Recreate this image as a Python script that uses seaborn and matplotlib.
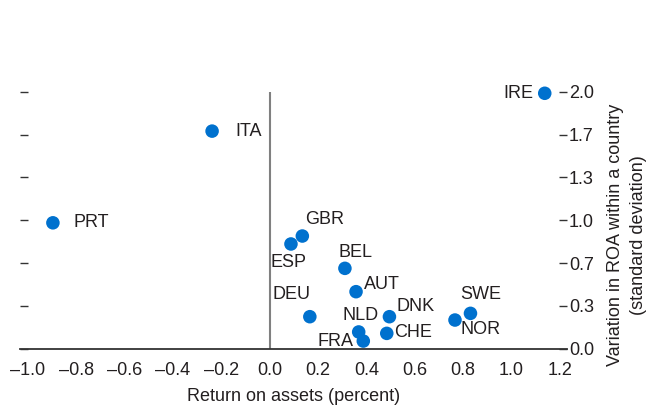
import pandas as pd
import matplotlib
matplotlib.use("Agg")
import matplotlib.pyplot as plt
import seaborn as sns

# data
countries = ["IRE", "ITA", "PRT", "GBR", "ESP", "BEL", "AUT", "DEU",
             "NLD", "FRA", "DNK", "CHE", "SWE", "NOR"]
roa = [1.137, -0.238, -0.896, 0.135, 0.088, 0.311, 0.357, 0.166,
       0.368, 0.387, 0.495, 0.484, 0.830, 0.766]
roa_sd = [1.99, 1.695, 0.98, 0.877, 0.815, 0.625, 0.443, 0.248,
          0.129, 0.058, 0.248, 0.118, 0.274, 0.222]

x_ticks = [-1.0, -0.8, -0.6, -0.4, -0.2, 0.0, 0.2, 0.4, 0.6, 0.8, 1.0, 1.2]
y_ticks = [0, 1 / 3, 2 / 3, 1, 4 / 3, 5 / 3, 2]
y_tick_labels = ["0.0", "0.3", "0.7", "1.0", "1.3", "1.7", "2.0"]

# label placement: (dx, dy) in pixels, horizontal alignment
label_pos = {
    "IRE": (-11, 0, "right"), "ITA": (23, 0, "left"), "PRT": (21, 0, "left"),
    "GBR": (3, 17, "left"), "ESP": (-2, -19, "center"), "BEL": (-6, 16, "left"),
    "AUT": (8, 7, "left"), "DEU": (-18, 22, "center"), "NLD": (2, 16, "center"),
    "FRA": (-10, 0, "right"), "DNK": (7, 10, "left"), "CHE": (7, 1, "left"),
    "SWE": (10, 19, "center"), "NOR": (6, -9, "left"),
}

df = pd.DataFrame({"country": countries, "roa": roa, "sd": roa_sd})

sns.set_style("white")
plt.rcParams["font.family"] = ["Liberation Sans", "DejaVu Sans"]
plt.rcParams["font.size"] = 13
txt = "#231F20"

fig = plt.figure(figsize=(6.55, 4.09), dpi=100)
ax = fig.add_axes([20 / 655, 1 - 348.5 / 409, 547 / 655, 256.5 / 409])

ax.axvline(0, color="#808080", lw=1.5, zorder=1)
sns.scatterplot(data=df, x="roa", y="sd", ax=ax, s=95, color="#0071CE",
                edgecolor="none", zorder=3, clip_on=False, legend=False)

for c, x, y in zip(countries, roa, roa_sd):
    dx, dy, ha = label_pos[c]
    ax.annotate(c, (x, y), xytext=(dx, dy), textcoords="offset pixels",
                ha=ha, va="center", fontsize=13, color=txt)

ax.set_xlim(-1.032, 1.229)
ax.set_ylim(0, 2.0)
ax.set_xticks(x_ticks)
ax.set_xticklabels([f"{t:.1f}".replace("-", "\u2013") for t in x_ticks])
ax.set_yticks(y_ticks)
ax.set_yticklabels(y_tick_labels)

for s in ["top", "left", "right"]:
    ax.spines[s].set_visible(False)
ax.spines["bottom"].set_color("#333333")
ax.spines["bottom"].set_linewidth(1.3)

ax.tick_params(axis="x", direction="in", length=4, width=1, color="#333333",
               pad=10, labelsize=13, labelcolor=txt)
ax.tick_params(axis="y", direction="in", length=6, width=1, color="#333333",
               left=True, right=True, labelleft=False, labelright=True,
               pad=1.5, labelsize=13, labelcolor=txt)

ax.set_xlabel("Return on assets (percent)", fontsize=13, color=txt, labelpad=6)
ax.yaxis.set_label_position("right")
ax.set_ylabel("Variation in ROA within a country\n(standard deviation)",
              fontsize=13, color=txt, linespacing=1.45)
ax.yaxis.label.set_va("center")
ax.yaxis.set_label_coords((627 - 20) / 547, (348.5 - 235) / 256.5)

fig.savefig("out.png", dpi=100)
